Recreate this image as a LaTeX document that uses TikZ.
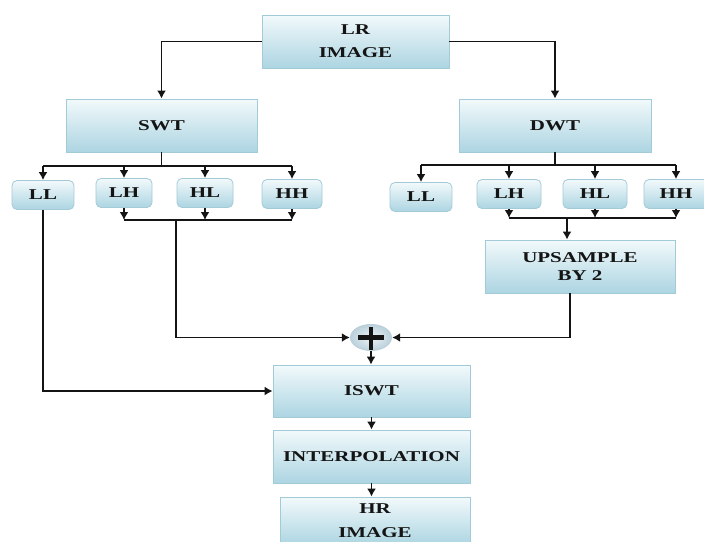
\documentclass[tikz,border=0pt]{standalone}
\usepackage{fontspec}
\setmainfont{Liberation Serif}[FakeStretch=1.4]
\usetikzlibrary{arrows.meta,shapes.geometric}
\definecolor{boxtop}{HTML}{F2F9FB}
\definecolor{boxbot}{HTML}{ACD5E2}
\definecolor{boxedge}{HTML}{A3CAD7}
\definecolor{ink}{HTML}{141414}
\definecolor{ballin}{HTML}{EEF4F7}
\definecolor{ballout}{HTML}{B9CFDA}
\begin{document}
\begin{tikzpicture}[x=1pt,y=-1pt,
  box/.style={draw=boxedge, line width=0.8pt, top color=boxtop, bottom color=boxbot,
    inner sep=0pt, align=center, text=ink, font=\fontsize{15}{20}\selectfont\bfseries},
  small/.style={box, rounded corners=5pt, minimum width=56pt, minimum height=29pt,
    font=\fontsize{15}{18}\selectfont\bfseries},
  conn/.style={draw=ink, line width=1.8pt},
  arr/.style={conn, -{Latex[length=8pt,width=9pt]}}]
\useasboundingbox (0,0) rectangle (704,541);
\fill[white] (0,0) rectangle (704,541);

% main boxes
\node[box, minimum width=187pt, minimum height=53pt] (lr) at (355.5,41.5) {LR\\[3pt]IMAGE};
\node[box, minimum width=191pt, minimum height=53pt] (swt) at (161.5,125.5) {SWT};
\node[box, minimum width=192pt, minimum height=53pt] (dwt) at (555,125.5) {DWT};

% SWT subbands
\node[small, minimum width=62pt] (sLL) at (43,195) {LL};
\node[small] (sLH) at (124,193) {LH};
\node[small] (sHL) at (205,193) {HL};
\node[small, minimum width=60pt] (sHH) at (292,194) {HH};

% DWT subbands
\node[small, minimum width=62pt] (dLL) at (421,197) {LL};
\node[small, minimum width=64pt] (dLH) at (509,194) {LH};
\node[small, minimum width=64pt] (dHL) at (595,194) {HL};
\node[small, minimum width=64pt] (dHH) at (676,194) {HH};

\node[box, minimum width=190pt, minimum height=53pt] (up) at (580,266.5) {UPSAMPLE\\[-2pt]BY 2};

% adder
\node[ellipse, minimum width=42pt, minimum height=27pt, inner sep=0pt, inner color=ballin, outer color=ballout] (plus) at (371,337.5) {};
\draw[ink, line width=4.5pt] ([xshift=-13pt]plus.center) -- ([xshift=13pt]plus.center);
\draw[ink, line width=4.5pt] ([yshift=-12pt]plus.center) -- ([yshift=11pt]plus.center);

\node[box, minimum width=197pt, minimum height=52pt] (iswt) at (371.5,391) {ISWT};
\node[box, minimum width=197pt, minimum height=53pt] (interp) at (371.5,456.5) {INTERPOLATION};
\node[box, minimum width=190pt, minimum height=48pt] (hr) at (375,521) {HR\\[4pt]IMAGE};

% connectors
\draw[arr] (lr.west) -| (swt.north);
\draw[arr] (lr.east) -| (dwt.north);

\coordinate (sj) at (161.5,166);
\draw[conn] (swt.south) -- (sj);
\draw[conn] (sj -| sLL) -- (sj -| sHH);
\foreach \n in {sLL,sLH,sHL,sHH} \draw[arr] (sj -| \n) -- (\n.north);

\coordinate (dj) at (555,165);
\draw[conn] (dwt.south) -- (dj);
\draw[conn] (dj -| dLL) -- (dj -| dHH);
\foreach \n in {dLL,dLH,dHL,dHH} \draw[arr] (dj -| \n) -- (\n.north);

\coordinate (sb) at (0,220);
\foreach \n in {sLH,sHL,sHH} \draw[arr] (\n.south) -- (sb -| \n);
\draw[conn] (sb -| sLH) -- (sb -| sHH);

\coordinate (db) at (0,218);
\foreach \n in {dLH,dHL,dHH} \draw[arr] (\n.south) -- (db -| \n);
\draw[conn] (db -| dLH) -- (db -| dHH);
\coordinate (dm) at (567,218);
\draw[arr] (dm) -- (dm |- up.north);

\coordinate (sd) at (176,220);
\draw[arr] (sd) |- (plus.west);
\coordinate (ud) at (570,0);
\draw[arr] (ud |- up.south) |- (plus.east);

\draw[arr] (plus.south) -- (plus.south |- iswt.north);
\draw[arr] (sLL.south) |- (iswt.west);
\draw[arr] (iswt.south) -- (interp.north);
\draw[arr] (interp.south) -- (interp.south |- hr.north);
\end{tikzpicture}
\end{document}
